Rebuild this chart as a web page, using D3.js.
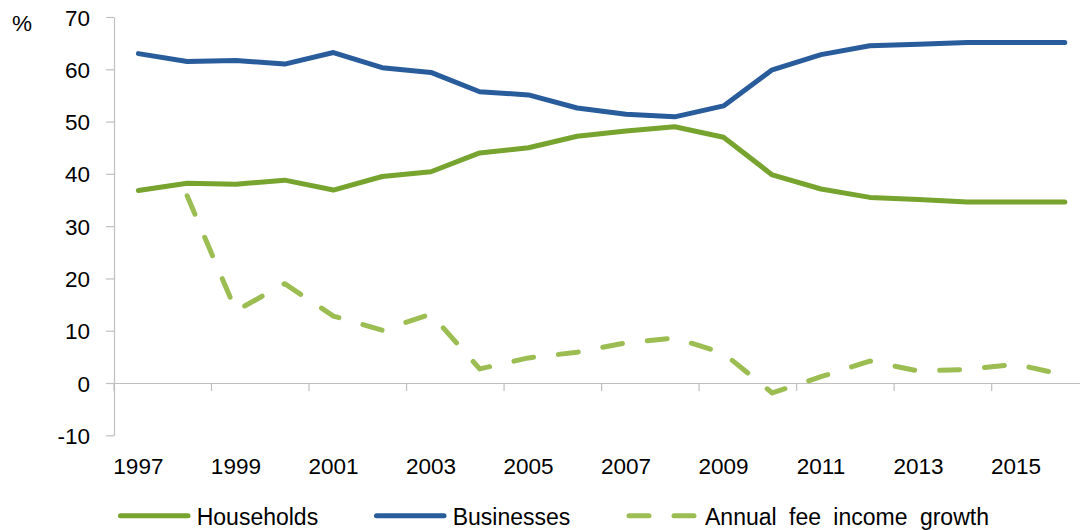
<!DOCTYPE html>
<html>
<head>
<meta charset="utf-8">
<script src="https://cdn.jsdelivr.net/npm/d3@7"></script>
<style>
  body { margin: 0; background: #fff; }
  svg { display: block; font-family: "Liberation Sans", Arial, sans-serif; }
</style>
</head>
<body>
<svg id="chart" width="1080" height="530"></svg>
<script>
const years = [1997,1998,1999,2000,2001,2002,2003,2004,2005,2006,2007,2008,2009,2010,2011,2012,2013,2014,2015,2016];
const households = [36.8,38.2,38.0,38.8,36.9,39.5,40.4,44.0,45.0,47.2,48.2,49.0,47.0,39.8,37.1,35.5,35.1,34.6,34.6,34.6];
const businesses = [63.0,61.5,61.7,61.0,63.2,60.3,59.4,55.7,55.1,52.6,51.4,50.9,53.0,59.9,62.8,64.5,64.8,65.1,65.1,65.1];
const feeGrowth  = [null,35.8,13.8,19.0,12.8,10.1,13.2,2.7,4.8,5.9,7.7,8.6,5.7,-1.9,1.2,4.2,2.3,2.6,3.6,1.5];
const yTicks = [-10,0,10,20,30,40,50,60,70];
const yTickLabels = ["-10","0","10","20","30","40","50","60","70"];
const xLabelYears = [1997,1999,2001,2003,2005,2007,2009,2011,2013,2015];
const seriesNames = ["Households","Businesses","Annual fee income growth"];

const colBlue = "#295C9B", colGreen = "#77A32F", colLight = "#9BBD52", axisCol = "#BFBFBF";

const svg = d3.select("#chart");
const left = 114, bw = 48.76;
const x = d3.scaleBand().domain(years).range([left, left + years.length * bw]).paddingInner(0).paddingOuter(0);
const y = d3.scaleLinear().domain([-10, 70]).range([435.3, 17]);

// Y axis
const yAxis = svg.append("g").attr("transform", `translate(${left},0)`)
  .call(d3.axisLeft(y).tickValues(yTicks).tickFormat((d, i) => yTickLabels[i]).tickSize(8).tickSizeOuter(0).tickPadding(16));
yAxis.select(".domain").attr("stroke", axisCol).attr("stroke-width", 1.2);
yAxis.selectAll(".tick line").attr("stroke", axisCol).attr("stroke-width", 1.2);
yAxis.selectAll(".tick text").attr("font-size", 22.5).attr("fill", "#000").attr("font-family", "Liberation Sans, Arial, sans-serif").attr("dy", "0.36em");

// X axis at zero
const xAxis = svg.append("g").attr("transform", `translate(0,${y(0)})`)
  .call(d3.axisBottom(x).tickValues(xLabelYears).tickSize(8).tickSizeOuter(0).tickPadding(0));
xAxis.select(".domain").attr("stroke", axisCol).attr("stroke-width", 1.2);
xAxis.selectAll(".tick line").attr("stroke", axisCol).attr("stroke-width", 1.2).attr("x1", -bw/2).attr("x2", -bw/2);
xAxis.selectAll(".tick text").attr("font-size", 22.5).attr("fill", "#000").attr("font-family", "Liberation Sans, Arial, sans-serif")
  .attr("y", 474 - y(0)).attr("dy", 0);

const cx = d => x(d) + x.bandwidth() / 2;
const mk = arr => d3.line().defined(d => d[1] != null).x(d => cx(d[0])).y(d => y(d[1]))(years.map((yr, i) => [yr, arr[i]]));

svg.append("path").attr("d", mk(households)).attr("fill", "none").attr("stroke", colGreen).attr("stroke-width", 5).attr("stroke-linecap", "round").attr("stroke-linejoin", "round");
svg.append("path").attr("d", mk(businesses)).attr("fill", "none").attr("stroke", colBlue).attr("stroke-width", 5).attr("stroke-linecap", "round").attr("stroke-linejoin", "round");
svg.append("path").attr("d", mk(feeGrowth)).attr("fill", "none").attr("stroke", colLight).attr("stroke-width", 5).attr("stroke-linecap", "round").attr("stroke-linejoin", "round").attr("stroke-dasharray", "20,25");

// % label
svg.append("text").attr("x", 12).attr("y", 30.5).attr("font-size", 22.5).attr("fill", "#000").text("%");

// Legend
const legend = [
  {name: seriesNames[0], col: colGreen, dash: null, x1: 120.5, x2: 188, tx: 196.7},
  {name: seriesNames[1], col: colBlue, dash: null, x1: 376.5, x2: 444, tx: 452.7},
  {name: seriesNames[2], col: colLight, dash: "20,25", x1: 629, x2: 700, tx: 705}
];
const lg = svg.append("g");
legend.forEach(l => {
  lg.append("line").attr("x1", l.x1).attr("x2", l.x2).attr("y1", 515.7).attr("y2", 515.7)
    .attr("stroke", l.col).attr("stroke-width", 5).attr("stroke-linecap", "round").attr("stroke-dasharray", l.dash);
  lg.append("text").attr("x", l.tx).attr("y", 524.5).attr("font-size", 23).attr("fill", "#000")
    .attr("word-spacing", l.dash ? 6 : 0).text(l.name);
});
</script>
</body>
</html>
